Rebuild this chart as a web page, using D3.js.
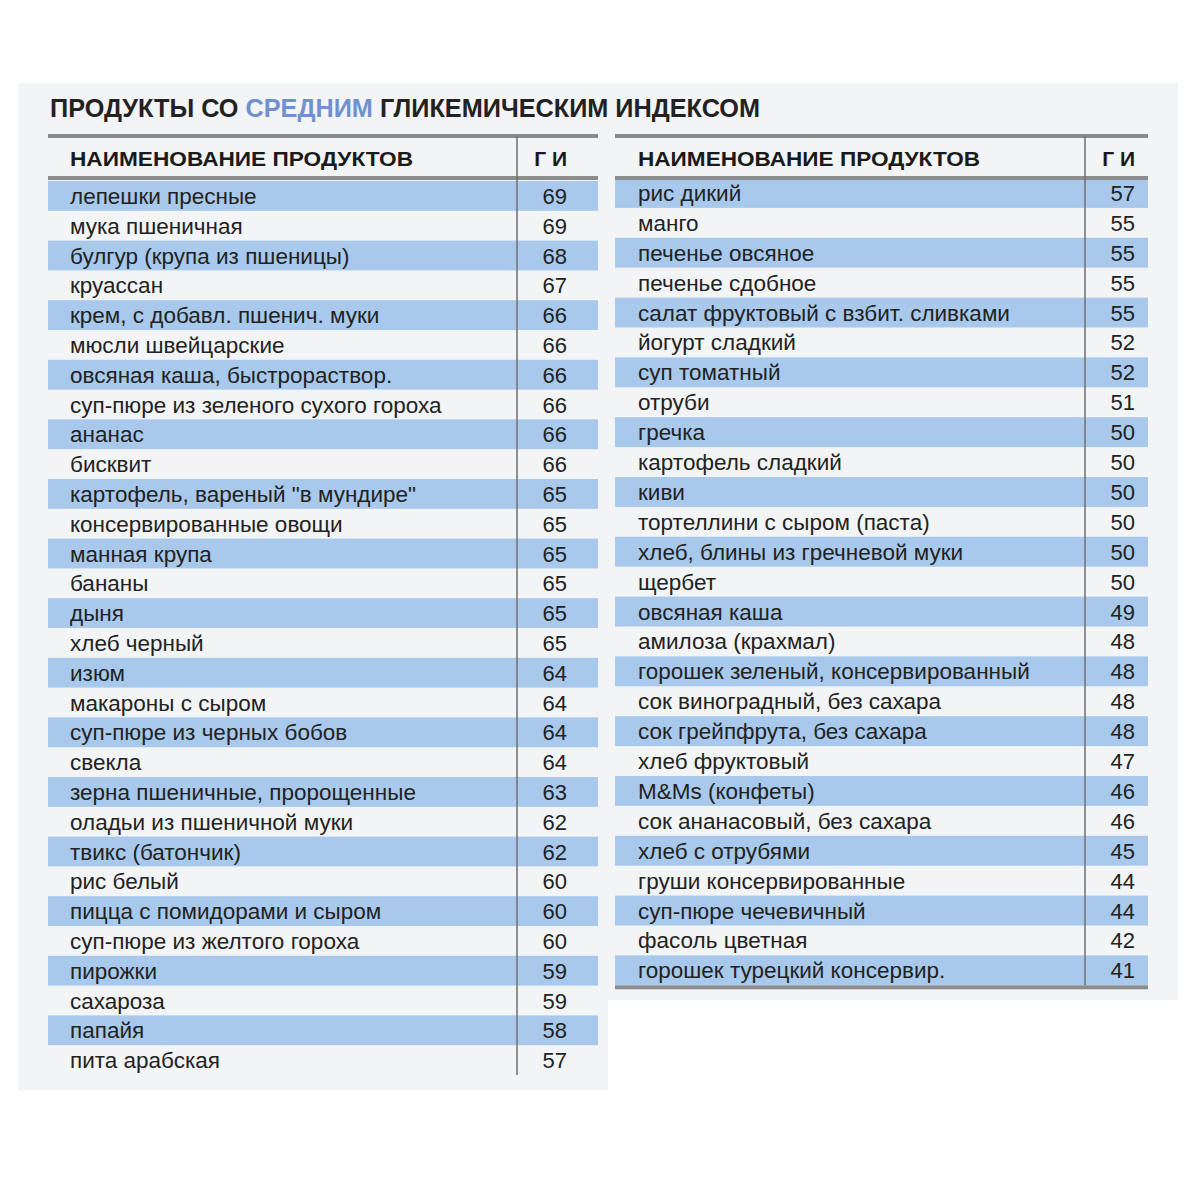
<!DOCTYPE html>
<html><head><meta charset="utf-8">
<script src="https://cdn.jsdelivr.net/npm/d3@7"></script>
<style>body{margin:0;background:#fff}svg{display:block}</style>
</head><body>
<script>
const titleParts = ["ПРОДУКТЫ СО ", "СРЕДНИМ", " ГЛИКЕМИЧЕСКИМ ИНДЕКСОМ"];
const headerName = "НАИМЕНОВАНИЕ ПРОДУКТОВ";
const headerGI = "Г И";
const leftNames = ["лепешки пресные","мука пшеничная","булгур (крупа из пшеницы)","круассан","крем, с добавл. пшенич. муки","мюсли швейцарские","овсяная каша, быстрораствор.","суп-пюре из зеленого сухого гороха","ананас","бисквит","картофель, вареный \"в мундире\"","консервированные овощи","манная крупа","бананы","дыня","хлеб черный","изюм","макароны с сыром","суп-пюре из черных бобов","свекла","зерна пшеничные, пророщенные","оладьи из пшеничной муки","твикс (батончик)","рис белый","пицца с помидорами и сыром","суп-пюре из желтого гороха","пирожки","сахароза","папайя","пита арабская"];
const leftValues = [69,69,68,67,66,66,66,66,66,66,65,65,65,65,65,65,64,64,64,64,63,62,62,60,60,60,59,59,58,57];
const rightNames = ["рис дикий","манго","печенье овсяное","печенье сдобное","салат фруктовый с взбит. сливками","йогурт сладкий","суп томатный","отруби","гречка","картофель сладкий","киви","тортеллини с сыром (паста)","хлеб, блины из гречневой муки","щербет","овсяная каша","амилоза (крахмал)","горошек зеленый, консервированный","сок виноградный, без сахара","сок грейпфрута, без сахара","хлеб фруктовый","M&Ms (конфеты)","сок ананасовый, без сахара","хлеб с отрубями","груши консервированные","суп-пюре чечевичный","фасоль цветная","горошек турецкий консервир."];
const rightValues = [57,55,55,55,55,52,52,51,50,50,50,50,50,50,49,48,48,48,48,47,46,46,45,44,44,42,41];

const W = 1188, H = 1177;
const svg = d3.select("body").append("svg").attr("width", W).attr("height", H);
const FONT = "'Liberation Sans', Arial, sans-serif";

// background panel
svg.append("path")
  .attr("d", "M18,83 H1178 V1000 H608 V1090 H18 Z")
  .attr("fill", "#f3f4f5");

// title
const title = svg.append("text").attr("x", 50).attr("y", 117)
  .attr("font-family", FONT).attr("font-weight", "bold").attr("font-size", 26)
  .attr("fill", "#222").attr("textLength", 710).attr("lengthAdjust", "spacingAndGlyphs");
title.append("tspan").text(titleParts[0]);
title.append("tspan").attr("fill", "#7091cf").text(titleParts[1]);
title.append("tspan").text(titleParts[2]);

function drawTable(cfg, names, values) {
  const g = svg.append("g");
  const y = d3.scaleBand().domain(d3.range(names.length))
    .range([cfg.rowTop, cfg.rowTop + cfg.pitch * names.length]).padding(0);
  // bands
  g.selectAll("rect.band").data(names.filter((d, i) => i % 2 === 0).map((d, k) => k * 2))
    .join("rect").attr("class", "band")
    .attr("x", cfg.x0).attr("width", cfg.x1 - cfg.x0)
    .attr("y", i => y(i)).attr("height", y.bandwidth())
    .attr("fill", "#a8c9ec");
  // header lines
  g.append("rect").attr("x", cfg.x0).attr("width", cfg.x1 - cfg.x0)
    .attr("y", 134).attr("height", 4).attr("fill", "#8c8c8c");
  g.append("rect").attr("x", cfg.x0).attr("width", cfg.x1 - cfg.x0)
    .attr("y", 176).attr("height", 4).attr("fill", "#8c8c8c");
  if (cfg.bottomLine) {
    g.append("rect").attr("x", cfg.x0).attr("width", cfg.x1 - cfg.x0)
      .attr("y", y(names.length - 1) + y.bandwidth()).attr("height", 4).attr("fill", "#8c8c8c");
  }
  // separator
  g.append("line").attr("x1", cfg.sep).attr("x2", cfg.sep)
    .attr("y1", 136).attr("y2", cfg.sepEnd)
    .attr("stroke", "#6f6f6f").attr("stroke-width", 1.5);
  // header text
  g.append("text").attr("x", cfg.nameX).attr("y", 166)
    .attr("font-family", FONT).attr("font-weight", "bold").attr("font-size", 21)
    .attr("fill", "#1a1a1a").attr("textLength", cfg.headW).attr("lengthAdjust", "spacingAndGlyphs")
    .text(headerName);
  g.append("text").attr("x", cfg.valX).attr("y", 166).attr("text-anchor", "end")
    .attr("font-family", FONT).attr("font-weight", "bold").attr("font-size", 21)
    .attr("fill", "#1a1a1a").text(headerGI);
  // rows
  g.selectAll("text.name").data(names).join("text").attr("class", "name")
    .attr("x", cfg.nameX).attr("y", (d, i) => y(i) + y.bandwidth() / 2 + 8)
    .attr("font-family", FONT).attr("font-size", 22.5).attr("fill", "#222")
    .text(d => d);
  g.selectAll("text.val").data(values).join("text").attr("class", "val")
    .attr("x", cfg.valX).attr("y", (d, i) => y(i) + y.bandwidth() / 2 + 8)
    .attr("text-anchor", "end")
    .attr("font-family", FONT).attr("font-size", 22).attr("fill", "#222")
    .text(d => d);
}

drawTable({x0: 48, x1: 598, sep: 517, sepEnd: 1075, nameX: 70, valX: 567, rowTop: 181, pitch: 29.8, headW: 343, bottomLine: false}, leftNames, leftValues);
drawTable({x0: 615, x1: 1148, sep: 1085, sepEnd: 985, nameX: 638, valX: 1135, rowTop: 178, pitch: 29.9, headW: 342, bottomLine: true}, rightNames, rightValues);
</script>
</body></html>
